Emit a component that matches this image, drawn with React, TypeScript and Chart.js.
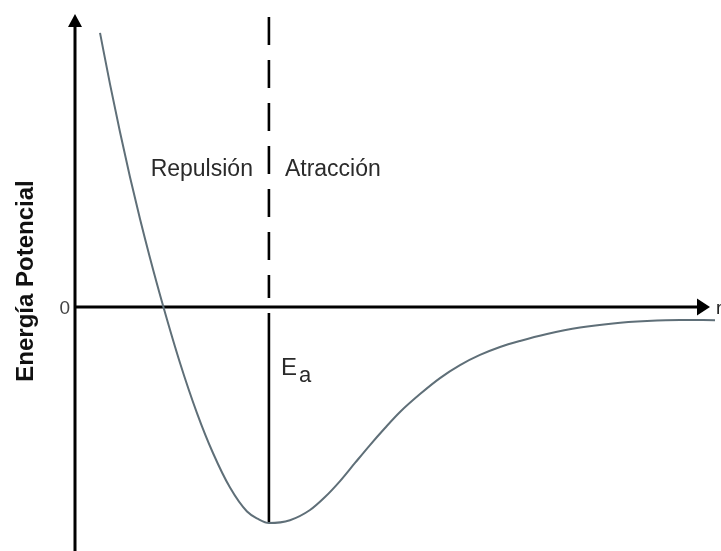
import React, { useEffect, useRef } from 'react';
import { Chart, registerables } from 'chart.js';

Chart.register(...registerables);

// Potential energy curve (r in arbitrary units, energy in units of Ea)
const rValues = [0.391, 0.547, 0.703, 0.859, 1.016, 1.172, 1.375, 1.641, 1.906, 2.156, 2.422, 2.688, 2.859, 3.031, 3.359, 3.672, 3.906, 4.141, 4.375, 4.609, 4.844, 5.078, 5.391, 5.703, 6.016, 6.328, 6.641, 6.953, 7.375, 7.891, 8.406, 8.938, 9.453, 10.0];
const energyValues = [1.269, 1.032, 0.81, 0.602, 0.407, 0.227, 0.007, -0.259, -0.491, -0.676, -0.836, -0.947, -0.981, -1.0, -0.987, -0.94, -0.88, -0.806, -0.722, -0.639, -0.56, -0.486, -0.403, -0.329, -0.269, -0.222, -0.185, -0.157, -0.125, -0.095, -0.076, -0.065, -0.06, -0.061];

// Boundary between repulsion and attraction (equilibrium distance)
const boundaryR = 3.03;
const dashedTopEnergy = 1.343;
const dashedBottomEnergy = 0.042;
const eaTopEnergy = -0.028;
const eaBottomEnergy = -1.0;

const yAxisTitle = 'Energía Potencial';
const xAxisLabel = 'r';
const zeroTickLabel = '0';
const repulsionLabel = 'Repulsión';
const attractionLabel = 'Atracción';
const eaMain = 'E';
const eaSub = 'a';

const W = 721;
const H = 551;

const annotationPlugin = {
  id: 'annot',
  beforeDatasetsDraw(chart: any) {
    const { ctx, chartArea, scales } = chart;
    const xs = scales.x;
    const ys = scales.y;
    const x0 = xs.getPixelForValue(0);
    const y0 = ys.getPixelForValue(0);
    ctx.save();
    ctx.strokeStyle = '#000';
    ctx.fillStyle = '#000';
    ctx.lineWidth = 3;
    // y axis
    const tipY = chartArea.top;
    ctx.beginPath();
    ctx.moveTo(x0, H);
    ctx.lineTo(x0, tipY + 12);
    ctx.stroke();
    ctx.beginPath();
    ctx.moveTo(x0, tipY);
    ctx.lineTo(x0 - 7, tipY + 13);
    ctx.lineTo(x0 + 7, tipY + 13);
    ctx.closePath();
    ctx.fill();
    // x axis
    const tipX = chartArea.right - 5;
    ctx.beginPath();
    ctx.moveTo(x0, y0);
    ctx.lineTo(tipX - 12, y0);
    ctx.stroke();
    ctx.beginPath();
    ctx.moveTo(tipX, y0);
    ctx.lineTo(tipX - 13, y0 - 8.5);
    ctx.lineTo(tipX - 13, y0 + 8.5);
    ctx.closePath();
    ctx.fill();
    ctx.restore();
  },
  afterDatasetsDraw(chart: any) {
    const { ctx, scales } = chart;
    const xs = scales.x;
    const ys = scales.y;
    const x0 = xs.getPixelForValue(0);
    const y0 = ys.getPixelForValue(0);
    const xb = xs.getPixelForValue(boundaryR);
    ctx.save();
    const family = '"Liberation Sans", Arial, sans-serif';
    // zero tick
    ctx.fillStyle = '#444';
    ctx.font = `19px ${family}`;
    ctx.textAlign = 'right';
    ctx.textBaseline = 'alphabetic';
    ctx.fillText(zeroTickLabel, x0 - 5, y0 + 7);
    // r label
    ctx.fillStyle = '#222';
    ctx.textAlign = 'left';
    ctx.fillText(xAxisLabel, 716, y0 + 7);
    // region labels
    ctx.fillStyle = '#2a2a2a';
    ctx.font = `23px ${family}`;
    ctx.textAlign = 'right';
    ctx.fillText(repulsionLabel, xb - 16, 176);
    ctx.textAlign = 'left';
    ctx.fillText(attractionLabel, xb + 16, 176);
    // Ea
    ctx.font = `24px ${family}`;
    ctx.fillText(eaMain, xb + 12, 375);
    ctx.font = `22px ${family}`;
    ctx.fillText(eaSub, xb + 30, 382);
    // y title
    ctx.save();
    ctx.translate(33, 281);
    ctx.rotate(-Math.PI / 2);
    ctx.textAlign = 'center';
    ctx.font = `bold 24px ${family}`;
    ctx.fillStyle = '#111';
    ctx.fillText(yAxisTitle, 0, 0);
    ctx.restore();
    ctx.restore();
  },
};

export default function App() {
  const ref = useRef<HTMLCanvasElement | null>(null);
  useEffect(() => {
    if (!ref.current) return;
    const curve = rValues.map((r, i) => ({ x: r, y: energyValues[i] }));
    const chart = new Chart(ref.current, {
      type: 'scatter',
      data: {
        datasets: [
          {
            data: curve,
            showLine: true,
            borderColor: '#5f6f78',
            borderWidth: 2,
            pointRadius: 0,
            cubicInterpolationMode: 'monotone',
            clip: false,
          } as any,
          {
            data: [
              { x: boundaryR, y: dashedTopEnergy },
              { x: boundaryR, y: dashedBottomEnergy },
            ],
            showLine: true,
            borderColor: '#000',
            borderWidth: 2.6,
            borderDash: [28, 15],
            pointRadius: 0,
            clip: false,
          } as any,
          {
            data: [
              { x: boundaryR, y: eaTopEnergy },
              { x: boundaryR, y: eaBottomEnergy },
            ],
            showLine: true,
            borderColor: '#000',
            borderWidth: 2.6,
            pointRadius: 0,
            clip: false,
          } as any,
        ],
      },
      options: {
        responsive: false,
        animation: false,
        devicePixelRatio: 1,
        layout: { padding: { left: 75, right: 6, top: 14, bottom: 0 } },
        scales: {
          x: { type: 'linear', min: 0, max: 10, display: false },
          y: { type: 'linear', min: -1.1296, max: 1.3565, display: false },
        },
        plugins: { legend: { display: false }, tooltip: { enabled: false } },
      },
      plugins: [annotationPlugin],
    } as any);
    return () => chart.destroy();
  }, []);
  return (
    <div style={{ position: 'absolute', left: 0, top: 0, width: W, height: H, background: '#fff' }}>
      <canvas ref={ref} width={W} height={H} style={{ width: W, height: H, display: 'block' }} />
    </div>
  );
}
